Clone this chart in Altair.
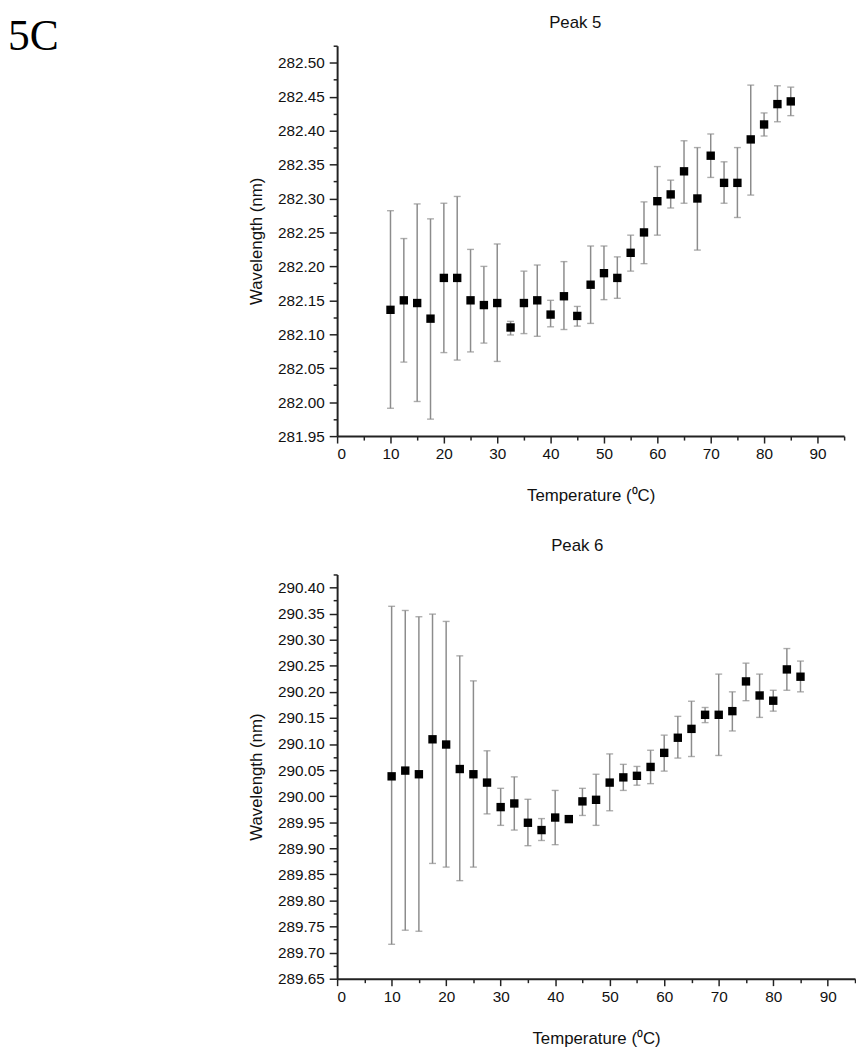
import altair as alt
import pandas as pd
import numpy as np

temps = [10, 12.5, 15, 17.5, 20, 22.5, 25, 27.5, 30, 32.5, 35, 37.5, 40, 42.5,
         45, 47.5, 50, 52.5, 55, 57.5, 60, 62.5, 65, 67.5, 70, 72.5, 75, 77.5,
         80, 82.5, 85]

p5_mean = [282.136, 282.150, 282.146, 282.123, 282.183, 282.183, 282.150, 282.143,
           282.146, 282.110, 282.146, 282.150, 282.129, 282.156, 282.127, 282.173,
           282.190, 282.183, 282.220, 282.250, 282.296, 282.306, 282.340, 282.300,
           282.363, 282.323, 282.323, 282.387, 282.409, 282.439, 282.443]
p5_high = [282.282, 282.241, 282.292, 282.270, 282.293, 282.303, 282.225, 282.200,
           282.233, 282.119, 282.193, 282.202, 282.150, 282.207, 282.141, 282.230,
           282.230, 282.214, 282.246, 282.295, 282.347, 282.327, 282.385, 282.375,
           282.395, 282.354, 282.375, 282.467, 282.426, 282.466, 282.464]
p5_low = [281.991, 282.059, 282.001, 281.975, 282.073, 282.062, 282.074, 282.087,
          282.060, 282.099, 282.101, 282.097, 282.111, 282.107, 282.112, 282.116,
          282.151, 282.153, 282.193, 282.204, 282.246, 282.286, 282.293, 282.224,
          282.331, 282.293, 282.272, 282.305, 282.392, 282.413, 282.422]

p6_mean = [290.038, 290.049, 290.042, 290.109, 290.099, 290.052, 290.042, 290.026,
           289.979, 289.986, 289.949, 289.935, 289.959, 289.956, 289.990, 289.993,
           290.026, 290.036, 290.039, 290.056, 290.083, 290.112, 290.129, 290.156,
           290.156, 290.163, 290.220, 290.193, 290.183, 290.243, 290.229]
p6_high = [290.364, 290.356, 290.344, 290.349, 290.335, 290.269, 290.221, 290.087,
           290.015, 290.037, 289.994, 289.957, 290.011, 289.958, 290.015, 290.042,
           290.081, 290.061, 290.057, 290.088, 290.117, 290.153, 290.182, 290.170,
           290.234, 290.200, 290.255, 290.234, 290.203, 290.283, 290.259]
p6_low = [289.716, 289.743, 289.741, 289.871, 289.864, 289.838, 289.864, 289.966,
          289.944, 289.935, 289.905, 289.915, 289.907, 289.954, 289.963, 289.944,
          289.972, 290.011, 290.021, 290.024, 290.048, 290.073, 290.076, 290.141,
          290.078, 290.125, 290.183, 290.151, 290.163, 290.203, 290.200]

x_ticks = list(range(0, 96, 5))
p5_ticks = [round(281.95 + 0.025 * i, 3) for i in range(24)]
p6_ticks = [round(289.65 + 0.025 * i, 3) for i in range(32)]

FONT = "Liberation Sans"
MAJ_Y = "abs(datum.value*20 - round(datum.value*20)) < 0.01"
MAJ_X = "datum.value % 10 == 0"


def panel(mean, lo, hi, title, ydom, yticks, w, h, title_x, title_y, with_label=False):
    df = pd.DataFrame({"T": temps, "m": mean, "lo": lo, "hi": hi})
    xaxis = alt.Axis(values=x_ticks, format="d", title="Temperature (\u2070C)",
                     labelExpr=f"{MAJ_X} ? datum.label : ''",
                     tickSize={"condition": {"test": MAJ_X, "value": 7}, "value": 4},
                     labelPadding=4, titlePadding=26)
    yaxis = alt.Axis(values=yticks, title="Wavelength (nm)",
                     labelExpr=f"{MAJ_Y} ? format(datum.value, '.2f') : ''",
                     tickSize={"condition": {"test": MAJ_Y, "value": 8}, "value": 4},
                     labelPadding=5, titlePadding=12, labelOverlap=False)
    xs = alt.Scale(domain=[0, 95], nice=False, zero=False)
    ys = alt.Scale(domain=ydom, nice=False, zero=False)
    X = alt.X("T:Q", scale=xs, axis=xaxis)
    base = alt.Chart(df)
    rule = base.mark_rule(color="#8c8c8c", strokeWidth=1.5).encode(
        x=X, y=alt.Y("lo:Q", scale=ys, axis=yaxis), y2="hi:Q")
    cap_lo = base.mark_tick(color="#8c8c8c", orient="horizontal", size=7, thickness=1.4).encode(
        x=X, y=alt.Y("lo:Q", scale=ys, axis=yaxis))
    cap_hi = base.mark_tick(color="#8c8c8c", orient="horizontal", size=7, thickness=1.4).encode(
        x=X, y=alt.Y("hi:Q", scale=ys, axis=yaxis))
    pts = base.mark_square(size=72, color="black", opacity=1).encode(
        x=X, y=alt.Y("m:Q", scale=ys, axis=yaxis))
    ttl = alt.Chart(pd.DataFrame({"t": [title]})).mark_text(
        align="center", baseline="middle", font=FONT, fontSize=17,
        color="#111").encode(text="t:N", x=alt.value(title_x), y=alt.value(title_y))
    layers = [rule, cap_lo, cap_hi, pts, ttl]
    if with_label:
        lab = alt.Chart(pd.DataFrame({"t": ["5C"]})).mark_text(
            align="left", baseline="alphabetic", font="Liberation Serif",
            fontSize=44, color="black").encode(
            text="t:N", x=alt.value(-333), y=alt.value(4))
        layers.append(lab)
    return alt.layer(*layers).properties(width=w, height=h)


top = panel(p5_mean, p5_low, p5_high, "Peak 5", [281.95, 282.525], p5_ticks,
            513, 395, 241, -23, True)
bottom = panel(p6_mean, p6_low, p6_high, "Peak 6", [289.65, 290.425], p6_ticks,
               524, 409, 243, -29)

chart = alt.vconcat(top, bottom, spacing=33).properties(
    padding={"top": 0, "left": 0, "right": 0, "bottom": 0}
).configure_view(stroke=None).configure_axis(
    grid=False, labelFont=FONT, titleFont=FONT, labelFontSize=15.5, titleFontSize=17,
    titleFontWeight="normal", labelColor="#111", titleColor="#111",
    domainColor="#222", domainWidth=2, tickColor="#222", tickWidth=1.5
)

chart.save("out.html", embed_options={"renderer": "svg", "actions": False})
